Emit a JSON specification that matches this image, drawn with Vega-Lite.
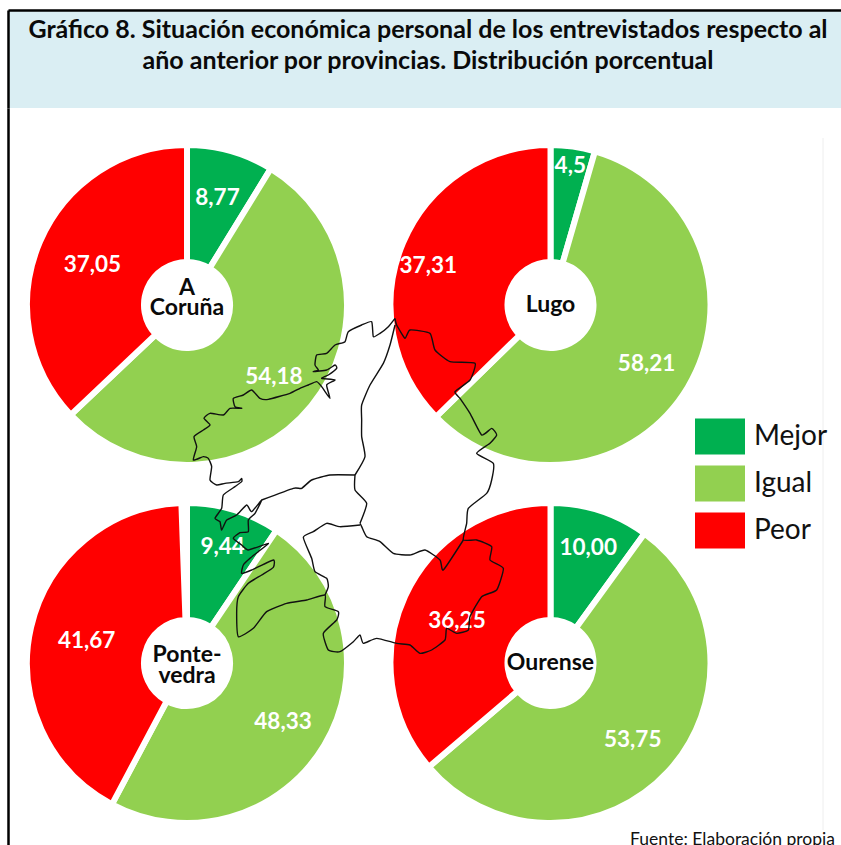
{
"$schema":"https://vega.github.io/schema/vega-lite/v6.json",
"padding":{"left":8,"top":10,"right":0,"bottom":0},
"background":"white",
"spacing":0,
"config":{"view":{"stroke":null},"font":"Lato"},
"datasets":{
"pies":[
{"provincia":"A Coruña","centro":"A\nCoruña","columna":"oeste","fila":"norte","categoria":"Mejor","orden":1,"valor":8.77,"etiqueta":"8,77"},
{"provincia":"A Coruña","centro":"A\nCoruña","columna":"oeste","fila":"norte","categoria":"Igual","orden":2,"valor":54.18,"etiqueta":"54,18"},
{"provincia":"A Coruña","centro":"A\nCoruña","columna":"oeste","fila":"norte","categoria":"Peor","orden":3,"valor":37.05,"etiqueta":"37,05"},
{"provincia":"Lugo","centro":"Lugo","columna":"este","fila":"norte","categoria":"Mejor","orden":1,"valor":4.48,"etiqueta":"4,5"},
{"provincia":"Lugo","centro":"Lugo","columna":"este","fila":"norte","categoria":"Igual","orden":2,"valor":58.21,"etiqueta":"58,21"},
{"provincia":"Lugo","centro":"Lugo","columna":"este","fila":"norte","categoria":"Peor","orden":3,"valor":37.31,"etiqueta":"37,31"},
{"provincia":"Pontevedra","centro":"Ponte-\nvedra","columna":"oeste","fila":"sur","categoria":"Mejor","orden":1,"valor":9.44,"etiqueta":"9,44"},
{"provincia":"Pontevedra","centro":"Ponte-\nvedra","columna":"oeste","fila":"sur","categoria":"Igual","orden":2,"valor":48.33,"etiqueta":"48,33"},
{"provincia":"Pontevedra","centro":"Ponte-\nvedra","columna":"oeste","fila":"sur","categoria":"Peor","orden":3,"valor":41.67,"etiqueta":"41,67"},
{"provincia":"Ourense","centro":"Ourense","columna":"este","fila":"sur","categoria":"Mejor","orden":1,"valor":10.00,"etiqueta":"10,00"},
{"provincia":"Ourense","centro":"Ourense","columna":"este","fila":"sur","categoria":"Igual","orden":2,"valor":53.75,"etiqueta":"53,75"},
{"provincia":"Ourense","centro":"Ourense","columna":"este","fila":"sur","categoria":"Peor","orden":3,"valor":36.25,"etiqueta":"36,25"}
],
"mapa":[
{"t":"contorno","o":1,"e":645,"n":25},{"t":"contorno","o":2,"e":625,"n":50},{"t":"contorno","o":3,"e":600,"n":70},{"t":"contorno","o":4,"e":580,"n":80},{"t":"contorno","o":5,"e":575,"n":35},{"t":"contorno","o":6,"e":545,"n":45},{"t":"contorno","o":7,"e":505,"n":65},{"t":"contorno","o":8,"e":495,"n":95},{"t":"contorno","o":9,"e":465,"n":105},{"t":"contorno","o":10,"e":440,"n":130},{"t":"contorno","o":11,"e":410,"n":135},{"t":"contorno","o":12,"e":405,"n":165},{"t":"contorno","o":13,"e":415,"n":180},{"t":"contorno","o":14,"e":400,"n":185},{"t":"contorno","o":15,"e":440,"n":180},{"t":"contorno","o":16,"e":465,"n":165},{"t":"contorno","o":17,"e":470,"n":175},{"t":"contorno","o":18,"e":445,"n":195},{"t":"contorno","o":19,"e":425,"n":205},{"t":"contorno","o":20,"e":465,"n":210},{"t":"contorno","o":21,"e":440,"n":225},{"t":"contorno","o":22,"e":450,"n":265},{"t":"contorno","o":23,"e":425,"n":230},{"t":"contorno","o":24,"e":410,"n":215},{"t":"contorno","o":25,"e":385,"n":225},{"t":"contorno","o":26,"e":360,"n":235},{"t":"contorno","o":27,"e":330,"n":250},{"t":"contorno","o":28,"e":265,"n":268},{"t":"contorno","o":29,"e":240,"n":265},{"t":"contorno","o":30,"e":215,"n":240},{"t":"contorno","o":31,"e":190,"n":255},{"t":"contorno","o":32,"e":160,"n":265},{"t":"contorno","o":33,"e":165,"n":290},{"t":"contorno","o":34,"e":185,"n":295},{"t":"contorno","o":35,"e":150,"n":295},{"t":"contorno","o":36,"e":130,"n":315},{"t":"contorno","o":37,"e":90,"n":310},{"t":"contorno","o":38,"e":72,"n":325},{"t":"contorno","o":39,"e":90,"n":345},{"t":"contorno","o":40,"e":70,"n":360},{"t":"contorno","o":41,"e":42,"n":380},{"t":"contorno","o":42,"e":50,"n":410},{"t":"contorno","o":43,"e":40,"n":450},{"t":"contorno","o":44,"e":70,"n":440},{"t":"contorno","o":45,"e":85,"n":445},{"t":"contorno","o":46,"e":95,"n":470},{"t":"contorno","o":47,"e":90,"n":510},{"t":"contorno","o":48,"e":110,"n":525},{"t":"contorno","o":49,"e":135,"n":520},{"t":"contorno","o":50,"e":175,"n":515},{"t":"contorno","o":51,"e":185,"n":505},{"t":"contorno","o":52,"e":185,"n":515},{"t":"contorno","o":53,"e":165,"n":530},{"t":"contorno","o":54,"e":130,"n":555},{"t":"contorno","o":55,"e":125,"n":595},{"t":"contorno","o":56,"e":105,"n":625},{"t":"contorno","o":57,"e":120,"n":635},{"t":"contorno","o":58,"e":125,"n":660},{"t":"contorno","o":59,"e":140,"n":630},{"t":"contorno","o":60,"e":170,"n":615},{"t":"contorno","o":61,"e":200,"n":585},{"t":"contorno","o":62,"e":215,"n":605},{"t":"contorno","o":63,"e":245,"n":570},{"t":"contorno","o":64,"e":225,"n":610},{"t":"contorno","o":65,"e":205,"n":630},{"t":"contorno","o":66,"e":205,"n":665},{"t":"contorno","o":67,"e":180,"n":668},{"t":"contorno","o":68,"e":160,"n":685},{"t":"contorno","o":69,"e":185,"n":705},{"t":"contorno","o":70,"e":205,"n":720},{"t":"contorno","o":71,"e":265,"n":700},{"t":"contorno","o":72,"e":235,"n":725},{"t":"contorno","o":73,"e":210,"n":745},{"t":"contorno","o":74,"e":190,"n":765},{"t":"contorno","o":75,"e":185,"n":790},{"t":"contorno","o":76,"e":215,"n":780},{"t":"contorno","o":77,"e":280,"n":750},{"t":"contorno","o":78,"e":280,"n":772},{"t":"contorno","o":79,"e":245,"n":795},{"t":"contorno","o":80,"e":205,"n":820},{"t":"contorno","o":81,"e":175,"n":860},{"t":"contorno","o":82,"e":170,"n":910},{"t":"contorno","o":83,"e":175,"n":980},{"t":"contorno","o":84,"e":220,"n":955},{"t":"contorno","o":85,"e":260,"n":905},{"t":"contorno","o":86,"e":320,"n":880},{"t":"contorno","o":87,"e":380,"n":870},{"t":"contorno","o":88,"e":435,"n":855},{"t":"contorno","o":89,"e":435,"n":890},{"t":"contorno","o":90,"e":475,"n":905},{"t":"contorno","o":91,"e":470,"n":930},{"t":"contorno","o":92,"e":430,"n":970},{"t":"contorno","o":93,"e":445,"n":1020},{"t":"contorno","o":94,"e":480,"n":1025},{"t":"contorno","o":95,"e":520,"n":995},{"t":"contorno","o":96,"e":540,"n":975},{"t":"contorno","o":97,"e":550,"n":1000},{"t":"contorno","o":98,"e":590,"n":985},{"t":"contorno","o":99,"e":650,"n":1000},{"t":"contorno","o":100,"e":690,"n":1005},{"t":"contorno","o":101,"e":720,"n":1030},{"t":"contorno","o":102,"e":755,"n":1020},{"t":"contorno","o":103,"e":795,"n":990},{"t":"contorno","o":104,"e":800,"n":955},{"t":"contorno","o":105,"e":830,"n":970},{"t":"contorno","o":106,"e":865,"n":960},{"t":"contorno","o":107,"e":870,"n":920},{"t":"contorno","o":108,"e":905,"n":860},{"t":"contorno","o":109,"e":950,"n":840},{"t":"contorno","o":110,"e":970,"n":775},{"t":"contorno","o":111,"e":930,"n":750},{"t":"contorno","o":112,"e":935,"n":710},{"t":"contorno","o":113,"e":890,"n":690},{"t":"contorno","o":114,"e":850,"n":690},{"t":"contorno","o":115,"e":860,"n":640},{"t":"contorno","o":116,"e":865,"n":595},{"t":"contorno","o":117,"e":920,"n":550},{"t":"contorno","o":118,"e":935,"n":510},{"t":"contorno","o":119,"e":940,"n":460},{"t":"contorno","o":120,"e":890,"n":430},{"t":"contorno","o":121,"e":930,"n":400},{"t":"contorno","o":122,"e":950,"n":375},{"t":"contorno","o":123,"e":935,"n":355},{"t":"contorno","o":124,"e":905,"n":375},{"t":"contorno","o":125,"e":870,"n":310},{"t":"contorno","o":126,"e":840,"n":265},{"t":"contorno","o":127,"e":825,"n":245},{"t":"contorno","o":128,"e":870,"n":210},{"t":"contorno","o":129,"e":885,"n":160},{"t":"contorno","o":130,"e":810,"n":155},{"t":"contorno","o":131,"e":765,"n":120},{"t":"contorno","o":132,"e":750,"n":70},{"t":"contorno","o":133,"e":690,"n":60},{"t":"contorno","o":134,"e":675,"n":85},{"t":"contorno","o":135,"e":650,"n":45},{"t":"contorno","o":136,"e":645,"n":25},
{"t":"coruna-lugo","o":1,"e":645,"n":45},{"t":"coruna-lugo","o":2,"e":630,"n":105},{"t":"coruna-lugo","o":3,"e":610,"n":160},{"t":"coruna-lugo","o":4,"e":570,"n":225},{"t":"coruna-lugo","o":5,"e":545,"n":285},{"t":"coruna-lugo","o":6,"e":545,"n":330},{"t":"coruna-lugo","o":7,"e":545,"n":380},{"t":"coruna-lugo","o":8,"e":555,"n":440},{"t":"coruna-lugo","o":9,"e":525,"n":495},
{"t":"coruna-pontevedra","o":1,"e":525,"n":495},{"t":"coruna-pontevedra","o":2,"e":450,"n":495},{"t":"coruna-pontevedra","o":3,"e":395,"n":510},{"t":"coruna-pontevedra","o":4,"e":365,"n":535},{"t":"coruna-pontevedra","o":5,"e":340,"n":535},{"t":"coruna-pontevedra","o":6,"e":245,"n":570},
{"t":"lugo-pontevedra","o":1,"e":525,"n":495},{"t":"lugo-pontevedra","o":2,"e":525,"n":540},{"t":"lugo-pontevedra","o":3,"e":560,"n":580},{"t":"lugo-pontevedra","o":4,"e":540,"n":640},
{"t":"pontevedra-ourense","o":1,"e":540,"n":645},{"t":"pontevedra-ourense","o":2,"e":480,"n":650},{"t":"pontevedra-ourense","o":3,"e":440,"n":640},{"t":"pontevedra-ourense","o":4,"e":400,"n":665},{"t":"pontevedra-ourense","o":5,"e":370,"n":682},{"t":"pontevedra-ourense","o":6,"e":395,"n":745},{"t":"pontevedra-ourense","o":7,"e":405,"n":785},{"t":"pontevedra-ourense","o":8,"e":440,"n":805},{"t":"pontevedra-ourense","o":9,"e":445,"n":830},{"t":"pontevedra-ourense","o":10,"e":435,"n":855},
{"t":"lugo-ourense","o":1,"e":540,"n":640},{"t":"lugo-ourense","o":2,"e":545,"n":650},{"t":"lugo-ourense","o":3,"e":560,"n":680},{"t":"lugo-ourense","o":4,"e":600,"n":695},{"t":"lugo-ourense","o":5,"e":640,"n":730},{"t":"lugo-ourense","o":6,"e":690,"n":735},{"t":"lugo-ourense","o":7,"e":735,"n":720},{"t":"lugo-ourense","o":8,"e":780,"n":750},{"t":"lugo-ourense","o":9,"e":790,"n":780},{"t":"lugo-ourense","o":10,"e":850,"n":690}
]
},
"vconcat":[
{
"width":840,"height":98,
"view":{"fill":"#DAEEF3","stroke":null},
"data":{"values":[
{"linea":1,"texto":"Gráfico 8. Situación económica personal de los entrevistados respecto al"},
{"linea":2,"texto":"año anterior por provincias. Distribución porcentual"}
]},
"mark":{"type":"text","font":"Lato","fontWeight":"bold","fontSize":25,"color":"#0a0a0a","align":"center","baseline":"middle"},
"encoding":{
"x":{"datum":0.5,"type":"quantitative","scale":{"domain":[0,1]},"axis":{"orient":"top","title":null,"grid":false,"ticks":false,"labels":false,"domain":true,"domainColor":"black","domainWidth":2.5}},
"y":{"field":"linea","type":"quantitative","scale":{"domain":[0.355,3.516],"reverse":true},"axis":{"orient":"left","title":null,"grid":false,"ticks":false,"labels":false,"domain":true,"domainColor":"black","domainWidth":2.5}},
"text":{"field":"texto"}
}
},
{
"width":840,"height":737,
"title":{"text":"Fuente: Elaboración propia","orient":"bottom","anchor":"end","font":"Lato","fontSize":17.5,"fontWeight":"normal","color":"#111111","dx":-13,"dy":-14,"offset":0},
"resolve":{"scale":{"x":"independent","y":"independent"}},
"layer":[
{
"data":{"name":"pies"},
"transform":[
{"stack":"valor","groupby":["provincia"],"sort":[{"field":"orden","order":"ascending"}],"as":["ini","fin"]},
{"calculate":"(datum.ini+datum.fin)/2","as":"medio"}
],
"encoding":{
"x":{"field":"columna","type":"nominal","scale":{"type":"point","domain":["oeste","este"],"range":[179,542.5],"padding":0},"axis":null},
"y":{"field":"fila","type":"nominal","scale":{"type":"point","domain":["norte","sur"],"range":[197,555],"padding":0},"axis":null}
},
"layer":[
{"mark":{"type":"arc","radius":160,"radius2":43,"stroke":"white","strokeWidth":6},
"encoding":{
"theta":{"field":"ini","type":"quantitative","stack":null,"scale":{"domain":[0,100],"range":[0,6.283185]}},
"theta2":{"field":"fin"},
"color":{"field":"categoria","type":"nominal","scale":{"domain":["Mejor","Igual","Peor"],"range":["#00B050","#92D050","#FF0000"]},
"legend":{"orient":"none","legendX":687,"legendY":403,"title":null,"symbolType":"M-1,-0.72H1V0.72H-1Z","symbolSize":2500,"symbolOpacity":1,"symbolStrokeWidth":0,"labelFont":"Lato","labelFontSize":28,"labelColor":"#111111","labelOffset":9,"rowPadding":0,"clipHeight":47,"labelLimit":200}}
}},
{"transform":[{"filter":{"field":"etiqueta","oneOf":["37,05","41,67","36,25"]}}],
"mark":{"type":"text","radius":103,"dy":1,"font":"Lato","fontWeight":"bold","fontSize":22.5,"color":"white","align":"center","baseline":"middle"},
"encoding":{"theta":{"field":"medio","type":"quantitative","stack":null,"scale":{"domain":[0,100],"range":[0,6.283185]}},"text":{"field":"etiqueta"}}},
{"transform":[{"filter":{"field":"etiqueta","oneOf":["54,18","58,21","48,33","53,75","8,77"]}}],
"mark":{"type":"text","radius":112,"dy":1,"font":"Lato","fontWeight":"bold","fontSize":22.5,"color":"white","align":"center","baseline":"middle"},
"encoding":{"theta":{"field":"medio","type":"quantitative","stack":null,"scale":{"domain":[0,100],"range":[0,6.283185]}},"text":{"field":"etiqueta"}}},
{"transform":[{"filter":{"field":"etiqueta","oneOf":["9,44","10,00"]}}],
"mark":{"type":"text","radius":122,"dy":1,"font":"Lato","fontWeight":"bold","fontSize":22.5,"color":"white","align":"center","baseline":"middle"},
"encoding":{"theta":{"field":"medio","type":"quantitative","stack":null,"scale":{"domain":[0,100],"range":[0,6.283185]}},"text":{"field":"etiqueta"}}},
{"transform":[{"filter":{"field":"etiqueta","equal":"37,31"}}],
"mark":{"type":"text","radius":125,"dx":-7,"dy":10,"font":"Lato","fontWeight":"bold","fontSize":22.5,"color":"white","align":"center","baseline":"middle"},
"encoding":{"theta":{"field":"medio","type":"quantitative","stack":null,"scale":{"domain":[0,100],"range":[0,6.283185]}},"text":{"field":"etiqueta"}}},
{"transform":[{"filter":{"field":"etiqueta","equal":"4,5"}}],
"mark":{"type":"text","radius":141,"dy":1,"font":"Lato","fontWeight":"bold","fontSize":22.5,"color":"white","align":"center","baseline":"middle"},
"encoding":{"theta":{"field":"medio","type":"quantitative","stack":null,"scale":{"domain":[0,100],"range":[0,6.283185]}},"text":{"field":"etiqueta"}}},
{"transform":[{"filter":{"field":"categoria","equal":"Mejor"}},{"filter":{"field":"provincia","oneOf":["Lugo","Ourense"]}}],
"mark":{"type":"text","font":"Lato","fontWeight":"bold","fontSize":23,"color":"#0a0a0a","align":"center","baseline":"middle"},
"encoding":{"text":{"field":"centro"}}},
{"transform":[{"filter":{"field":"categoria","equal":"Mejor"}},{"filter":{"field":"provincia","equal":"A Coruña"}}],
"mark":{"type":"text","dy":-17,"font":"Lato","fontWeight":"bold","fontSize":23,"color":"#0a0a0a","align":"center","baseline":"middle","lineBreak":"\n","lineHeight":20},
"encoding":{"text":{"field":"centro"}}},
{"transform":[{"filter":{"field":"categoria","equal":"Mejor"}},{"filter":{"field":"provincia","equal":"Pontevedra"}}],
"mark":{"type":"text","dy":-8,"font":"Lato","fontWeight":"bold","fontSize":23,"color":"#0a0a0a","align":"center","baseline":"middle","lineBreak":"\n","lineHeight":21},
"encoding":{"text":{"field":"centro"}}}
]
},
{
"layer":[
{"data":{"values":[{"marco":"linea de cierre"}]},
"mark":{"type":"rule","color":"#eeeeee","strokeWidth":1},
"encoding":{
"x":{"datum":1929,"type":"quantitative","scale":{"domain":[-516,2004],"nice":false,"zero":false},"axis":null},
"y":{"datum":-516,"type":"quantitative","scale":{"domain":[-606,1605],"reverse":true,"nice":false,"zero":false},"axis":{"orient":"left","title":null,"grid":false,"ticks":false,"labels":false,"domain":true,"domainColor":"black","domainWidth":2.5}},
"y2":{"datum":1560}
}},
{"data":{"name":"mapa"},
"mark":{"type":"line","color":"#111111","strokeWidth":1.4,"strokeJoin":"round","interpolate":"cardinal","tension":0.5,"clip":true},
"encoding":{
"x":{"field":"e","type":"quantitative","scale":{"domain":[-516,2004],"nice":false,"zero":false},"axis":null},
"y":{"field":"n","type":"quantitative","scale":{"domain":[-606,1605],"reverse":true,"nice":false,"zero":false},"axis":{"orient":"left","title":null,"grid":false,"ticks":false,"labels":false,"domain":true,"domainColor":"black","domainWidth":2.5}},
"detail":{"field":"t"},
"order":{"field":"o"}
}}
]
}
]
}
]
}
